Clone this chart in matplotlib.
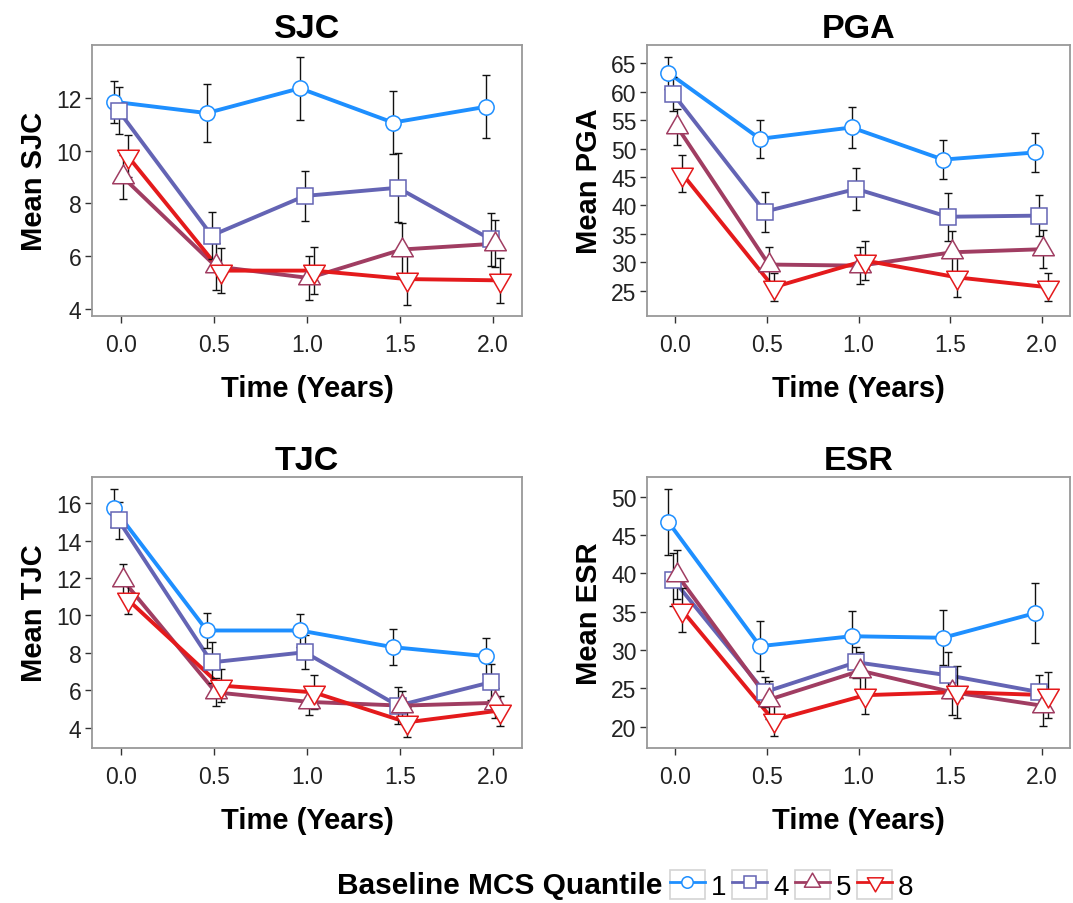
#! /usr/bin/env python3

'''
Mean disease activity measures over time, by baseline MCS quantile.
Four panels (SJC, PGA, TJC, ESR) with error bars and a shared legend.
'''

import numpy as np
import matplotlib
matplotlib.use('Agg')
import matplotlib.pyplot as plt
from matplotlib.path import Path
from matplotlib.lines import Line2D
from matplotlib.patches import Rectangle
from matplotlib.legend_handler import HandlerLine2D

plt.rcParams['font.family'] = ['Liberation Sans', 'DejaVu Sans']

times = [0.0, 0.5, 1.0, 1.5, 2.0]
quantiles = ['1', '4', '5', '8']
colours = ['#1E8FFF', '#6464B4', '#A03D62', '#E41A1C']

# means and half-widths of the error bars, one row per quantile
sjc_mean = [[11.85, 11.42, 12.36, 11.06, 11.66],
            [11.51, 6.78, 8.28, 8.59, 6.63],
            [9.00, 5.61, 5.17, 6.25, 6.47],
            [9.80, 5.45, 5.45, 5.13, 5.08]]
sjc_err = [[0.8, 1.1, 1.2, 1.2, 1.2],
           [0.9, 0.9, 0.95, 1.3, 1.0],
           [0.85, 0.9, 0.85, 1.0, 0.9],
           [0.8, 0.85, 0.88, 1.0, 0.85]]

pga_mean = [[63.3, 51.7, 53.7, 48.05, 49.3],
            [59.6, 38.9, 42.9, 38.0, 38.2],
            [53.8, 29.6, 29.4, 31.75, 32.3],
            [45.6, 25.6, 30.3, 27.35, 25.6]]
pga_err = [[2.8, 3.3, 3.6, 3.4, 3.4],
           [3.0, 3.5, 3.7, 4.2, 3.6],
           [3.2, 3.0, 3.3, 3.7, 3.3],
           [3.2, 2.5, 3.5, 3.5, 2.5]]

tjc_mean = [[15.73, 9.2, 9.2, 8.31, 7.83],
            [15.07, 7.5, 8.04, 5.19, 6.44],
            [11.9, 5.9, 5.39, 5.19, 5.34],
            [10.86, 6.26, 5.9, 4.3, 4.93]]
tjc_err = [[1.0, 0.95, 0.9, 0.95, 0.95],
           [1.0, 1.1, 0.9, 1.0, 0.95],
           [0.85, 0.75, 0.7, 0.8, 0.8],
           [0.8, 0.9, 0.9, 0.8, 0.8]]

esr_mean = [[46.7, 30.5, 31.8, 31.6, 34.8],
            [39.2, 24.5, 28.4, 26.7, 24.5],
            [39.8, 23.5, 27.3, 24.5, 22.7],
            [35.2, 20.8, 24.1, 24.5, 24.1]]
esr_err = [[4.35, 3.3, 3.3, 3.6, 3.9],
           [3.5, 2.0, 2.0, 3.0, 2.2],
           [3.2, 2.5, 2.5, 3.0, 2.6],
           [2.9, 2.0, 2.4, 3.4, 3.0]]

panels = [
    ('SJC', sjc_mean, sjc_err, np.arange(4, 13, 2), (3.73, 14.0)),
    ('PGA', pga_mean, pga_err, np.arange(25, 66, 5), (20.55, 68.2)),
    ('TJC', tjc_mean, tjc_err, np.arange(4, 17, 2), (2.93, 17.39)),
    ('ESR', esr_mean, esr_err, np.arange(20, 51, 5), (17.2, 52.6)),
]

# triangles centred on their centroid, like R's pch 2 / 6
tri_up = Path([(0, 1), (-0.866, -0.5), (0.866, -0.5), (0, 1)],
              [Path.MOVETO, Path.LINETO, Path.LINETO, Path.CLOSEPOLY])
tri_down = Path([(0, -1), (-0.866, 0.5), (0.866, 0.5), (0, -1)],
                [Path.MOVETO, Path.LINETO, Path.LINETO, Path.CLOSEPOLY])
markers = ['o', 's', tri_up, tri_down]
msizes = [11, 11, 18, 18]
dodge = [-0.038, -0.012, 0.010, 0.036]

W, H = 1073, 904
boxes = [(92, 46, 522, 317), (647, 46, 1070, 317),
         (92, 478, 522, 749), (647, 478, 1070, 749)]

fig = plt.figure(figsize=(W / 100, H / 100), dpi=100)

for (name, means, errs, yticks, ylim), (x0, y0, x1, y1) in zip(panels, boxes):
    ax = fig.add_axes([x0 / W, 1 - y1 / H, (x1 - x0) / W, (y1 - y0) / H])
    for i, q in enumerate(quantiles):
        x = np.array(times) + dodge[i]
        ax.plot(x, means[i], color=colours[i], lw=2.8, zorder=2,
                solid_capstyle='butt')
        ax.errorbar(x, means[i], yerr=errs[i], fmt='none', ecolor='#111111',
                    elinewidth=1.0, capsize=3, capthick=1.0, zorder=3)
        ax.plot(x, means[i], ls='none', marker=markers[i], ms=msizes[i],
                mfc='white', mec=colours[i], mew=1.1, zorder=4)
    ax.set_xlim(-0.155, 2.155)
    ax.set_ylim(*ylim)
    ax.set_xticks(times)
    ax.set_xticklabels([f'{t:.1f}' for t in times])
    ax.set_yticks(yticks)
    ax.tick_params(labelsize=16.5, length=5, width=1, color='#333333',
                   labelcolor='#222222')
    ax.tick_params(axis='x', pad=7)
    ax.tick_params(axis='y', pad=2.5)
    for spine in ax.spines.values():
        spine.set_color('#999999')
        spine.set_linewidth(1.3)
    ax.set_title(name, fontsize=24.5, fontweight='bold', pad=6)
    ax.set_ylabel(f'Mean {name}', fontsize=21, fontweight='bold', labelpad=6)
    ax.set_xlabel('Time (Years)', fontsize=21, fontweight='bold', labelpad=13)


class BoxedKey(HandlerLine2D):
    'Legend key drawn inside a light grey box, ggplot style.'

    def create_artists(self, legend, orig_handle, xdescent, ydescent,
                       width, height, fontsize, trans):
        artists = super().create_artists(legend, orig_handle, xdescent,
                                          ydescent, width, height,
                                          fontsize, trans)
        box = Rectangle((-xdescent, -ydescent), width, height,
                        facecolor='white', edgecolor='#d4d4d4', lw=1.2,
                        transform=trans)
        return [box] + artists


handles = [
    Line2D([], [], color=c, lw=2, marker=m, ms=s * 0.75, mfc='white',
           mec=c, mew=1.1)
    for c, m, s in zip(colours, markers, msizes)
]
fig.text(662 / W, 1 - 886 / H, 'Baseline MCS Quantile', fontsize=21.5,
         fontweight='bold', ha='right', va='center')
fig.legend(handles, quantiles, loc='center left',
           bbox_to_anchor=(670 / W, 1 - 886 / H), ncol=4, frameon=False,
           fontsize=20, numpoints=1, handlelength=1.25, handleheight=1.25,
           handletextpad=0.22, columnspacing=0.22, borderpad=0,
           borderaxespad=0,
           handler_map={Line2D: BoxedKey()})

fig.savefig('out.png', dpi=100)
